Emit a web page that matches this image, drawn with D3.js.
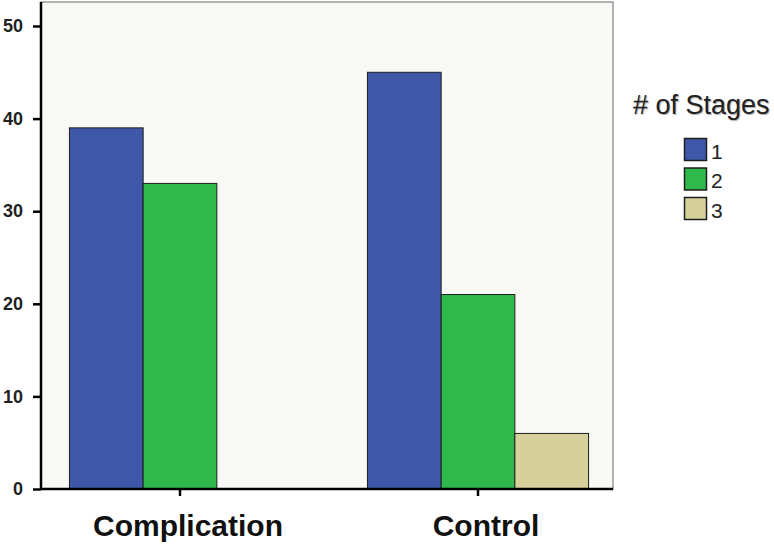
<!DOCTYPE html>
<html><head><meta charset="utf-8">
<script src="https://cdn.jsdelivr.net/npm/d3@7"></script>
<style>body{margin:0;background:#fff}svg{display:block}</style>
</head><body><svg id="c" width="774" height="545"></svg>
<script>
const categories = ["Complication", "Control"];
const stages = ["1", "2", "3"];
const stage1 = [39, 45];
const stage2 = [33, 21];
const stage3 = [0, 6];
const yTicks = [0, 10, 20, 30, 40, 50];
const colors = ["#3f57a9", "#2fb84b", "#d6d09a"];
const legendTitle = "# of Stages";

const series = [stage1, stage2, stage3];
const svg = d3.select("#c");
const L = 41, R = 613, T = 2, B = 489;
const FONT = "Liberation Sans, Arial, sans-serif";

const y = d3.scaleLinear().domain([0, 50]).range([B, 26]);
const x = d3.scaleBand().domain(categories).range([45, 613]).paddingInner(0.258).paddingOuter(0.082);
const xs = d3.scaleBand().domain(stages).range([0, x.bandwidth()]);

svg.append("rect").attr("x", L).attr("y", T).attr("width", R - L).attr("height", B - T)
  .attr("fill", "#f8f8f5").attr("stroke", "#9a9a9a").attr("stroke-width", 1.5);

categories.forEach((c, i) => {
  series.forEach((s, k) => {
    if (s[i] > 0) {
      svg.append("rect")
        .attr("x", x(c) + xs(stages[k]))
        .attr("y", y(s[i]))
        .attr("width", xs.bandwidth())
        .attr("height", y(0) - y(s[i]))
        .attr("fill", colors[k]).attr("stroke", "#1e1e1e").attr("stroke-width", 1);
    }
  });
});

const yAxis = svg.append("g").attr("transform", `translate(${L},0)`)
  .call(d3.axisLeft(y).tickValues(yTicks).tickSize(8).tickPadding(10).tickFormat(d3.format("d")));
yAxis.select(".domain").attr("stroke", "#000").attr("stroke-width", 2.5).attr("d", `M0,${T}V${B}`);
yAxis.selectAll(".tick line").attr("stroke", "#000").attr("stroke-width", 2.5);
yAxis.selectAll(".tick text").attr("font-family", FONT).attr("font-weight", "bold")
  .attr("font-size", 18).attr("fill", "#222");

const xAxis = svg.append("g").attr("transform", `translate(0,${B})`)
  .call(d3.axisBottom(x).tickSize(7).tickPadding(16));
xAxis.select(".domain").attr("stroke", "#000").attr("stroke-width", 2.5).attr("d", `M${L},0H${R}`);
xAxis.selectAll(".tick line").attr("stroke", "#000").attr("stroke-width", 2.5);
xAxis.selectAll(".tick text").attr("font-family", FONT).attr("font-weight", "bold")
  .attr("font-size", 30).attr("fill", "#111").attr("dx", 8).attr("dy", 0).attr("y", 47);

const lg = svg.append("g");
lg.append("text").attr("x", 633).attr("y", 114).text(legendTitle)
  .attr("font-family", FONT).attr("font-size", 27).attr("fill", "#222")
  .attr("style", "text-shadow:1px 1px 1px #aaa");
stages.forEach((s, k) => {
  const yy = 138.5 + k * 29.5;
  lg.append("rect").attr("x", 684.5).attr("y", yy).attr("width", 22).attr("height", 22)
    .attr("fill", colors[k]).attr("stroke", "#1e1e1e").attr("stroke-width", 1.5);
  lg.append("text").attr("x", 711).attr("y", yy + 20).text(s)
    .attr("font-family", FONT).attr("font-size", 21).attr("fill", "#222");
});
</script></body></html>
